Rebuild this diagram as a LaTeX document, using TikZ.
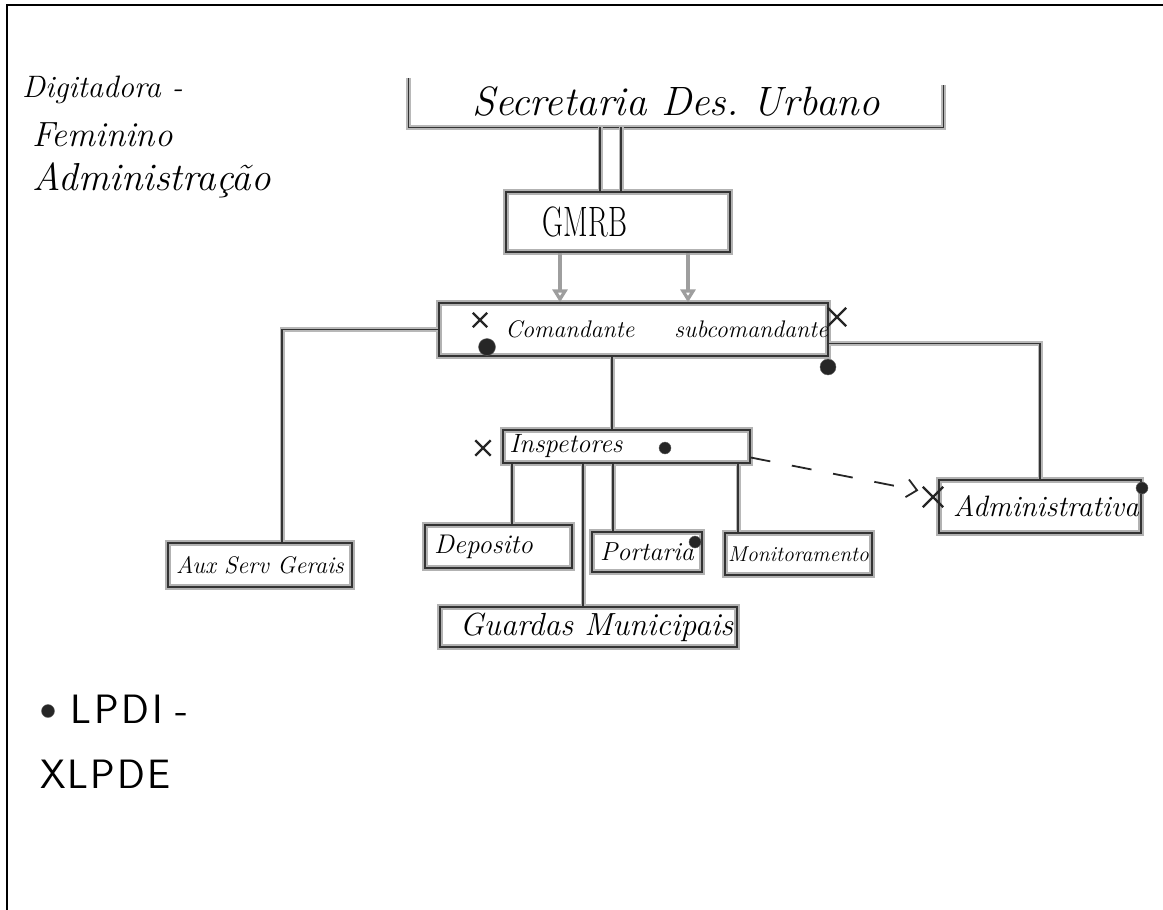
\documentclass[tikz,border=0pt]{standalone}
\usetikzlibrary{arrows.meta,shapes.misc,calc}
\newcommand\hsz[1]{\fontsize{#1}{#1}\selectfont}
\begin{document}
\begin{tikzpicture}[x=1pt,y=-1pt,
  boxn/.style={draw=black!80, line width=1.3pt, preaction={draw=black!30, line width=6pt}, inner sep=0pt},
  conn/.style={draw=black!80, line width=1.2pt, preaction={draw=black!28, line width=5pt}},
  garrow/.style={draw=black!38, line width=4pt, -{Triangle[open, length=13pt, width=15pt]}},
  dotm/.style={circle, fill=black!85, draw=black!60, inner sep=0pt, minimum size=#1},
  xm/.style={cross out, draw=black!85, line width=2.4pt, inner sep=0pt, minimum size=#1},
  plain/.style={inner sep=0pt, anchor=base west}
]
\useasboundingbox (0,0) rectangle (1163,910);
\draw[line width=2.5pt] (7,910) -- (7,5) -- (1163,5);

% left notes
\node[plain, font=\itshape\hsz{31}] (dig) at (22,97) {Digitadora -};
\node[plain, font=\itshape\hsz{35}] (fem) at (32,146) {Feminino};
\node[plain, font=\itshape\hsz{39}] (admt) at (32,190) {Administração};

% boxes
\node[minimum width=534pt, minimum height=52pt, inner sep=0pt, font=\itshape\hsz{41}] (sec) at (676,101) {Secretaria Des.\ Urbano};
\node[boxn, minimum width=224pt, minimum height=60pt, font=\hsz{34}] (gmrb) at (618,222) {\scalebox{0.85}[1.25]{GMRB}\hspace*{66pt}};
\node[boxn, minimum width=389pt, minimum height=53pt, text width=389pt, align=right, font=\itshape\hsz{24}] (cmd) at (633.5,329.5) {Comandante\hspace{40pt}subcomandante};
\node[boxn, minimum width=247pt, minimum height=33pt, font=\itshape\hsz{26.5}] (insp) at (626.5,446.5) {Inspetores\hspace*{121pt}};
\node[boxn, minimum width=147pt, minimum height=43pt, font=\itshape\hsz{27}] (dep) at (498.5,546.5) {Deposito\hspace*{30pt}};
\node[boxn, minimum width=110pt, minimum height=40pt, font=\itshape\hsz{26}] (port) at (647,552) {Portaria};
\node[boxn, minimum width=147pt, minimum height=42pt, font=\itshape\hsz{21.5}] (mon) at (798.5,554) {Monitoramento};
\node[boxn, minimum width=297pt, minimum height=40pt, font=\itshape\hsz{32}] (gua) at (588.5,627) {\hspace*{16pt}Guardas Municipais};
\node[boxn, minimum width=184pt, minimum height=44pt, font=\itshape\hsz{24}] (aux) at (260,565) {Aux Serv Gerais};
\node[boxn, minimum width=202pt, minimum height=53pt, font=\itshape\hsz{29.5}] (adm) at (1040,506.5) {\hspace*{12pt}Administrativa};

% bracket of Secretaria
\draw[conn] ([yshift=-3pt]sec.north west) -- (sec.south west) -- (sec.south east) -- ([yshift=-10pt]sec.north east);

% connectors
\draw[conn] ([xshift=-76pt]sec.south) -- ([xshift=-18pt]gmrb.north);
\draw[conn] ([xshift=-55pt]sec.south) -- ([xshift=3pt]gmrb.north);
\draw[garrow] ([xshift=-58pt]gmrb.south) -- ([xshift=-73.5pt]cmd.north);
\draw[garrow] ([xshift=70pt]gmrb.south) -- ([xshift=54.5pt]cmd.north);
\draw[conn] (cmd.west) -| ([xshift=22pt]aux.north);
\draw[conn] ([yshift=-14pt]cmd.east) -| (adm.north);
\draw[conn] ([xshift=-21.5pt]cmd.south) -- ([xshift=-14.5pt]insp.north);
\draw[conn] ([xshift=-114.5pt]insp.south) -- ([xshift=13.5pt]dep.north);
\draw[conn] ([xshift=-43.5pt]insp.south) -- ([xshift=-5.5pt]gua.north);
\draw[conn] ([xshift=-13.5pt]insp.south) -- ([xshift=-34pt]port.north);
\draw[conn] ([xshift=111.5pt]insp.south) -- ([xshift=-60.5pt]mon.north);
\draw[line width=1.8pt, black!85, dash pattern=on 20pt off 22pt, -{Straight Barb[length=10pt, width=18pt]}] ([yshift=-11pt]insp.east) -- ([xshift=-20pt, yshift=16pt]adm.west);

% marks
\node[xm=12pt] (x1) at (480,320) {};
\node[dotm=17pt] (d1) at (487,347) {};
\node[xm=16pt] (x2) at (837,317) {};
\node[dotm=16pt] (d2) at (828,367) {};
\node[xm=13pt] (x3) at (483,448) {};
\node[dotm=12pt] (d3) at (665,448) {};
\node[dotm=12pt] (d4) at (695,542) {};
\node[xm=18pt] (x4) at (933,497) {};
\node[dotm=12pt] (d5) at (1142,488) {};

% legend
\node[dotm=13pt] (ldot) at (48,711) {};
\node[plain, font=\sffamily\hsz{41}] (lpdi) at (70,723) {L\kern3pt P\kern3pt D\kern3pt I\kern12pt -};
\node[plain, font=\sffamily\hsz{41}] (lpde) at (40,788) {X\kern2pt L\kern2pt P\kern2pt D\kern2pt E};
\end{tikzpicture}
\end{document}
